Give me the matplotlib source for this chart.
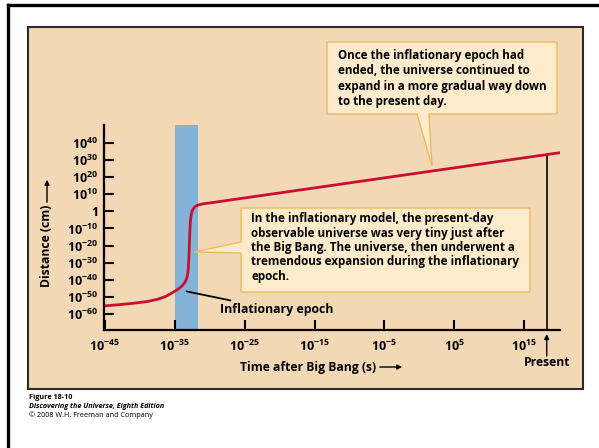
import matplotlib
matplotlib.use('Agg')
import matplotlib.pyplot as plt
from matplotlib.patches import Rectangle, Polygon, FancyArrowPatch
from matplotlib.lines import Line2D
import numpy as np

# ---------------- data (exponents) ----------------
log_time = [-45, -43, -41, -39, -37.5, -36.3, -35.5, -34.8, -34.2, -33.8, -33.5,
            -33.3, -33.15, -33.05, -32.97, -32.9, -32.83, -32.75, -32.65, -32.5,
            -32.3, -32.0, -31.5, -30.8, -30.0, 19.9]
log_dist = [-55.3, -54.6, -53.8, -52.8, -51.5, -49.8, -48.0, -46.3, -44.6, -43.0, -41.3,
            -39.5, -37.0, -33.5, -28.0, -20.0, -12.0, -6.0, -2.5, 0.2,
            1.8, 3.0, 3.9, 4.5, 4.9, 34.2]
inflation_start = -35.0
inflation_end = -31.7
log_present = 18.2
log_present_dist = 33.2

x_ticks = [-45, -35, -25, -15, -5, 5, 15]
x_tick_labels = [r'$10^{-45}$', r'$10^{-35}$', r'$10^{-25}$', r'$10^{-15}$',
                 r'$10^{-5}$', r'$10^{5}$', r'$10^{15}$']
y_ticks = [40, 30, 20, 10, 0, -10, -20, -30, -40, -50, -60]
y_tick_labels = [r'$10^{40}$', r'$10^{30}$', r'$10^{20}$', r'$10^{10}$', r'$1$',
                 r'$10^{-10}$', r'$10^{-20}$', r'$10^{-30}$', r'$10^{-40}$',
                 r'$10^{-50}$', r'$10^{-60}$']

# ---------------- style ----------------
plt.rcParams['font.family'] = ['Open Sans', 'DejaVu Sans']
plt.rcParams['font.weight'] = 'bold'
plt.rcParams['mathtext.fontset'] = 'custom'
plt.rcParams['mathtext.rm'] = 'Open Sans:bold'
plt.rcParams['mathtext.bf'] = 'Open Sans:bold'
plt.rcParams['mathtext.it'] = 'Open Sans:bold:italic'
plt.rcParams['mathtext.sf'] = 'Open Sans:bold'

TAN = '#f2d8b4'
BLUE = '#84b3d7'
RED = '#c8102e'
BOXFILL = '#fdebcc'
BOXEDGE = '#f0b85e'

W, H = 599, 448
fig = plt.figure(figsize=(W / 100, H / 100), dpi=100)
fig.patch.set_facecolor('white')


def fx(x):
    return x / W


def fy(y):
    return 1 - y / H


# outer frame
fig.add_artist(Line2D([fx(8), fx(8)], [fy(5), 0], color='black', lw=2.4,
                      transform=fig.transFigure, zorder=0.1))
fig.add_artist(Line2D([fx(8), 1], [fy(5), fy(5)], color='black', lw=2.4,
                      transform=fig.transFigure, zorder=0.1))
# tan panel
fig.add_artist(Rectangle((fx(28), fy(389)), fx(583) - fx(28), fy(27) - fy(389),
                         transform=fig.transFigure, facecolor=TAN,
                         edgecolor='#2a2a2a', lw=1.5, zorder=0.2))

# ---------------- axes ----------------
ax = fig.add_axes([104 / W, 1 - 330 / H, 456 / W, 205 / H])
ax.set_zorder(1)
ax.patch.set_visible(False)
ax.set_xscale('log')
ax.set_yscale('log')
ax.set_xlim(10 ** -45.1, 10 ** 20.1)
ax.set_ylim(10 ** -69.4, 10 ** 50.5)

for s in ['top', 'right']:
    ax.spines[s].set_visible(False)
for s in ['left', 'bottom']:
    ax.spines[s].set_linewidth(1.6)
    ax.spines[s].set_color('black')
    ax.spines[s].set_zorder(3)

ax.xaxis.set_major_locator(matplotlib.ticker.FixedLocator(np.power(10.0, x_ticks)))
ax.xaxis.set_major_formatter(matplotlib.ticker.FixedFormatter(x_tick_labels))
ax.yaxis.set_major_locator(matplotlib.ticker.FixedLocator(np.power(10.0, y_ticks)))
ax.yaxis.set_major_formatter(matplotlib.ticker.FixedFormatter(y_tick_labels))
ax.xaxis.set_minor_locator(matplotlib.ticker.NullLocator())
ax.yaxis.set_minor_locator(matplotlib.ticker.NullLocator())
ax.tick_params(axis='both', direction='in', length=7, width=1.5, labelsize=9,
               colors='black')
ax.tick_params(axis='x', pad=6)
ax.tick_params(axis='y', pad=4)

# inflationary band
ax.axvspan(10 ** inflation_start, 10 ** inflation_end, color=BLUE, lw=0, zorder=0.5)

# curve
ax.plot(np.power(10.0, log_time), np.power(10.0, log_dist), color=RED, lw=2.0,
        zorder=2, solid_joinstyle='round')

# present line
ax.plot([10 ** log_present, 10 ** log_present],
        [10 ** -69.4, 10 ** log_present_dist], color='black', lw=1.2, zorder=1.5)
ax.annotate('', xy=(10 ** log_present, fy(334)), xytext=(10 ** log_present, fy(356)),
            xycoords=('data', 'figure fraction'), textcoords=('data', 'figure fraction'),
            arrowprops=dict(arrowstyle='-|>', lw=1.0, color='black', mutation_scale=7,
                            shrinkA=0, shrinkB=0))
ax.annotate('Present', xy=(10 ** log_present, fy(363)),
            xycoords=('data', 'figure fraction'), ha='center', va='center',
            fontsize=8.7, fontweight='bold')

# inflationary epoch label
ax.annotate('Inflationary epoch', xy=(10 ** -33.3, 10 ** -46.8),
            xytext=(fx(220), fy(310)), textcoords='figure fraction',
            ha='left', va='center', fontsize=8.9, fontweight='bold',
            arrowprops=dict(arrowstyle='-', lw=1.3, color='black',
                            shrinkA=1, shrinkB=0))

# axis labels
fig.text(fx(240), fy(367), 'Time after Big Bang (s)', ha='left', va='center',
         fontsize=8.7, fontweight='bold')
fig.add_artist(FancyArrowPatch(
    (fx(377), fy(367)), (fx(405), fy(367)), transform=fig.transFigure,
    arrowstyle='-|>', mutation_scale=7, lw=1.0, color='black'))
fig.text(fx(47), fy(246), 'Distance (cm)', ha='center', va='center', rotation=90,
         fontsize=8.7, fontweight='bold')
fig.add_artist(FancyArrowPatch(
    (fx(47), fy(205)), (fx(47), fy(177)), transform=fig.transFigure,
    arrowstyle='-|>', mutation_scale=7, lw=1.0, color='black'))

# callout boxes
box1 = [(327, 42), (557, 42), (557, 114), (429, 114), (432, 166), (417, 114), (327, 114)]
fig.add_artist(Polygon([(fx(x), fy(y)) for x, y in box1], closed=True,
                       transform=fig.transFigure, facecolor=BOXFILL,
                       edgecolor=BOXEDGE, lw=1.0, zorder=3))
fig.text(fx(338), fy(78.5),
         'Once the inflationary epoch had\nended, the universe continued to\n'
         'expand in a more gradual way down\nto the present day.',
         ha='left', va='center', fontsize=8.4, fontweight='bold', linespacing=1.24,
         zorder=4)

box2 = [(241, 208), (530, 208), (530, 292), (241, 292), (241, 253), (194, 252), (241, 242)]
fig.add_artist(Polygon([(fx(x), fy(y)) for x, y in box2], closed=True,
                       transform=fig.transFigure, facecolor=BOXFILL,
                       edgecolor=BOXEDGE, lw=1.0, zorder=3))
fig.text(fx(251), fy(247.5),
         'In the inflationary model, the present-day\nobservable universe was very tiny just after\n'
         'the Big Bang. The universe, then underwent a\ntremendous expansion during the inflationary\nepoch.',
         ha='left', va='center', fontsize=8.4, fontweight='bold', linespacing=1.14,
         zorder=4)

# caption
fig.text(fx(29), fy(397), 'Figure 18-10', ha='left', va='center', fontsize=5.2,
         fontweight='bold')
fig.text(fx(29), fy(406), 'Discovering the Universe, Eighth Edition', ha='left',
         va='center', fontsize=5.2, fontweight='bold', fontstyle='italic')
fig.text(fx(29), fy(415), '\u00a9 2008 W.H. Freeman and Company', ha='left',
         va='center', fontsize=5.2, fontweight='normal')

fig.savefig('out.png', dpi=100)
